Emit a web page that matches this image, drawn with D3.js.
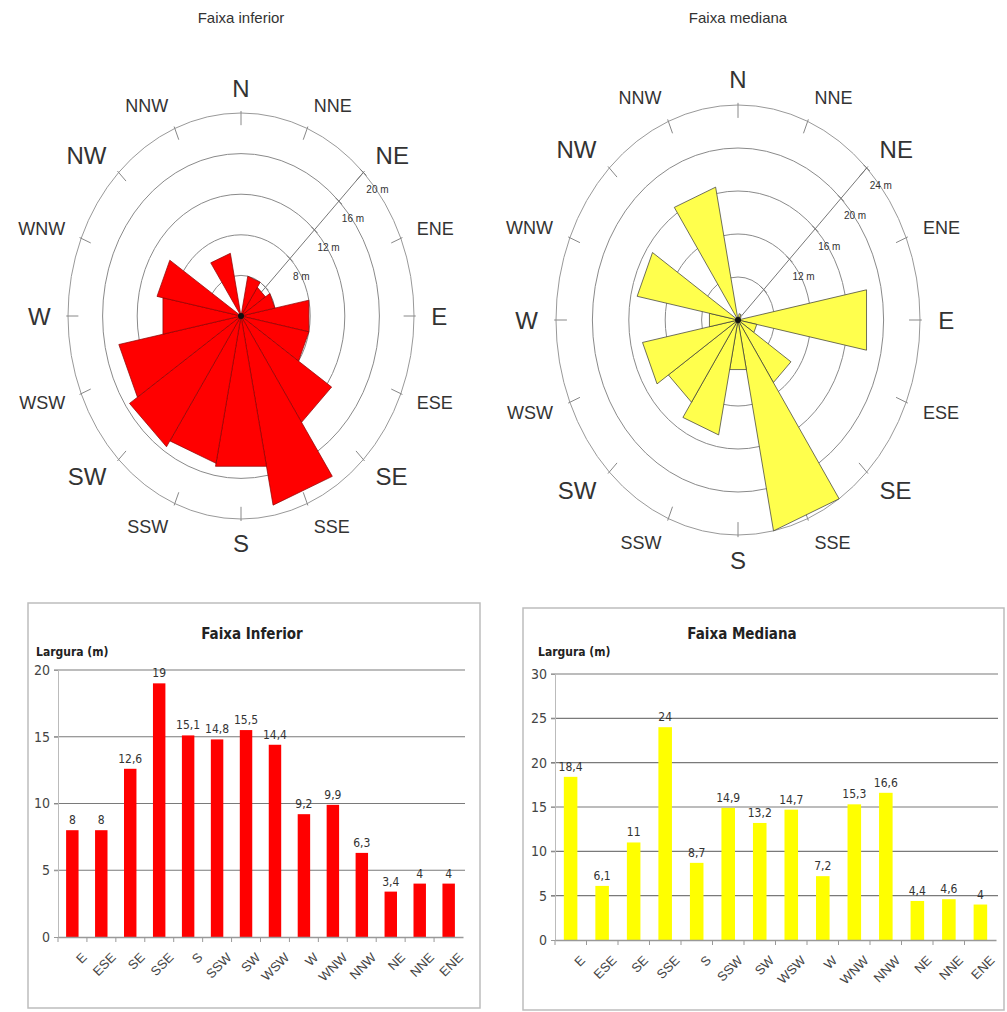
<!DOCTYPE html>
<html>
<head>
<meta charset="utf-8">
<script src="https://cdn.jsdelivr.net/npm/d3@7"></script>
<style>
  body { margin: 0; background: #fff; }
  svg { display: block; font-family: "Liberation Sans", Arial, sans-serif; }
  .rose-title { font-size: 15px; fill: #333; text-anchor: middle; }
  .dir-big { font-size: 24px; fill: #333; }
  .dir-small { font-size: 18px; fill: #333; }
  .ring-label { font-size: 10px; fill: #333; }
  .narrow { font-family: "Liberation Sans Narrow", "DejaVu Sans Condensed", Arial, sans-serif; }
  .bar-title { font-size: 15px; font-weight: bold; fill: #222; text-anchor: middle; }
  .y-title { font-size: 12px; font-weight: bold; fill: #222; }
  .val-label { font-size: 12px; fill: #333; text-anchor: middle; }
  .axis text { font-size: 14px; fill: #444; }
  .xaxis text { font-size: 13px; fill: #444; }
</style>
</head>
<body>
<svg id="chart" width="1007" height="1012"></svg>
<script>
// Directions as listed in the bar charts
const barDirections = ['E', 'ESE', 'SE', 'SSE', 'S', 'SSW', 'SW', 'WSW', 'W', 'WNW', 'NNW', 'NE', 'NNE', 'ENE'];
// Largura (m), faixa inferior
const inferiorValues = [8, 8, 12.6, 19, 15.1, 14.8, 15.5, 14.4, 9.2, 9.9, 6.3, 3.4, 4, 4];
// Largura (m), faixa mediana
const medianaValues = [18.4, 6.1, 11, 24, 8.7, 14.9, 13.2, 14.7, 7.2, 15.3, 16.6, 4.4, 4.6, 4];
// Compass rose, clockwise from north
const compass = ['N', 'NNE', 'NE', 'ENE', 'E', 'ESE', 'SE', 'SSE', 'S', 'SSW', 'SW', 'WSW', 'W', 'WNW', 'NW', 'NNW'];
const bigDirections = ['N', 'NE', 'E', 'SE', 'S', 'SW', 'W', 'NW'];
// Rose rings (m)
const inferiorRings = [4, 8, 12, 16, 20];
const inferiorRingLabels = [8, 12, 16, 20];
const medianaRings = [8, 12, 16, 20, 24];
const medianaRingLabels = [12, 16, 20, 24];
// Bar chart y ticks
const inferiorTicks = [0, 5, 10, 15, 20];
const medianaTicks = [0, 5, 10, 15, 20, 25, 30];

const svg = d3.select('#chart');

/**
 * Draws an elliptical wind rose
 */
function drawRose(cfg) {
  const g = svg.append('g').attr('transform', `translate(${cfg.cx},${cfg.cy})`);
  const r = d3.scaleLinear().domain(cfg.domain).range([0, 1]);
  const angle = d3.scalePoint().domain(compass).range([0, 360 - 22.5]);
  const pt = (deg, rr) => {
    const a = deg * Math.PI / 180;
    return [cfg.rx * rr * Math.sin(a), -cfg.ry * rr * Math.cos(a)];
  };

  svg.append('text')
    .attr('class', 'rose-title')
    .attr('x', cfg.cx)
    .attr('y', 23)
    .text(cfg.title);

  // Rings
  g.selectAll('ellipse.ring')
    .data(cfg.rings)
    .enter()
    .append('ellipse')
    .attr('class', 'ring')
    .attr('rx', (d) => cfg.rx * r(d))
    .attr('ry', (d) => cfg.ry * r(d))
    .attr('fill', 'none')
    .attr('stroke', (d, i) => (i === cfg.rings.length - 1 ? '#999' : '#8a8a8a'))
    .attr('stroke-width', 1);

  // Outer ticks
  g.selectAll('line.tick')
    .data(compass)
    .enter()
    .append('line')
    .attr('class', 'tick')
    .attr('x1', (d) => pt(angle(d), 0.94)[0])
    .attr('y1', (d) => pt(angle(d), 0.94)[1])
    .attr('x2', (d) => pt(angle(d), 1.01)[0])
    .attr('y2', (d) => pt(angle(d), 1.01)[1])
    .attr('stroke', '#888');

  // Scale axis along NE
  const end = pt(45, 1);
  g.append('line')
    .attr('x1', 0).attr('y1', 0)
    .attr('x2', end[0]).attr('y2', end[1])
    .attr('stroke', '#777');
  g.selectAll('line.rtick')
    .data(cfg.rings)
    .enter()
    .append('line')
    .attr('class', 'rtick')
    .attr('x1', (d) => pt(45, r(d))[0] - 3)
    .attr('y1', (d) => pt(45, r(d))[1] - 3)
    .attr('x2', (d) => pt(45, r(d))[0] + 3)
    .attr('y2', (d) => pt(45, r(d))[1] + 3)
    .attr('stroke', '#777');
  g.selectAll('text.ring-label')
    .data(cfg.ringLabels)
    .enter()
    .append('text')
    .attr('class', 'ring-label')
    .attr('x', (d) => pt(45, r(d))[0] + 3)
    .attr('y', (d) => pt(45, r(d))[1] + 21)
    .text((d) => d + ' m');

  // Wedges
  const half = 11.25;
  const rows = cfg.dirs.map((d, i) => ({ dir: d, value: cfg.values[i] }));
  g.selectAll('path.wedge')
    .data(rows)
    .enter()
    .append('path')
    .attr('class', 'wedge')
    .attr('d', (d) => {
      const a = angle(d.dir);
      const rr = Math.max(0, r(d.value));
      const p1 = pt(a - half, rr);
      const p2 = pt(a + half, rr);
      return `M0,0L${p1[0]},${p1[1]}L${p2[0]},${p2[1]}Z`;
    })
    .attr('fill', cfg.fill)
    .attr('stroke', cfg.stroke)
    .attr('stroke-width', 0.7)
    .attr('stroke-linejoin', 'round');

  g.append('circle').attr('r', 3).attr('fill', '#111');

  // Direction labels
  g.selectAll('text.dir')
    .data(compass)
    .enter()
    .append('text')
    .attr('class', (d) => (bigDirections.includes(d) ? 'dir-big' : 'dir-small'))
    .attr('x', (d) => pt(angle(d), 1.1)[0])
    .attr('y', (d) => pt(angle(d), 1.12)[1])
    .attr('dy', '0.36em')
    .attr('text-anchor', (d) => {
      const a = angle(d);
      if (a === 0 || a === 180) return 'middle';
      return a < 180 ? 'start' : 'end';
    })
    .text((d) => d);
}

/**
 * Draws a bar chart of widths by direction
 */
function drawBars(cfg) {
  svg.append('rect')
    .attr('x', cfg.box[0]).attr('y', cfg.box[1])
    .attr('width', cfg.box[2]).attr('height', cfg.box[3])
    .attr('fill', '#fff')
    .attr('stroke', '#bdbdbd')
    .attr('stroke-width', 1.5);

  const x = d3.scaleBand().domain(barDirections).range([cfg.x0, cfg.x1]).paddingInner(0.57).paddingOuter(0.28);
  const xb = d3.scaleBand().domain(barDirections).range([cfg.x0, cfg.x1]);
  const y = d3.scaleLinear().domain([0, d3.max(cfg.ticks)]).range([cfg.y0, cfg.yTop]);
  const g = svg.append('g');

  // Gridlines
  g.selectAll('line.grid')
    .data(cfg.ticks.slice(1))
    .enter()
    .append('line')
    .attr('x1', cfg.x0 - 4).attr('x2', cfg.x1 + 2)
    .attr('y1', (d) => y(d)).attr('y2', (d) => y(d))
    .attr('stroke', '#7a7a7a')
    .attr('stroke-width', 1.2);

  // Y axis
  const yAxis = g.append('g')
    .attr('class', 'axis narrow')
    .attr('transform', `translate(${cfg.x0},0)`)
    .call(d3.axisLeft(y).tickValues(cfg.ticks).tickSize(4).tickPadding(4));
  yAxis.select('.domain').attr('stroke', '#bbb');
  yAxis.selectAll('.tick line').attr('stroke', '#999');

  // Bars
  g.selectAll('rect.bar')
    .data(cfg.values)
    .enter()
    .append('rect')
    .attr('class', 'bar')
    .attr('x', (d, i) => x(barDirections[i]))
    .attr('y', (d) => y(d))
    .attr('width', x.bandwidth())
    .attr('height', (d) => cfg.y0 - y(d))
    .attr('fill', cfg.fill);

  // Value labels
  g.selectAll('text.val-label')
    .data(cfg.values)
    .enter()
    .append('text')
    .attr('class', 'val-label narrow')
    .attr('x', (d, i) => x(barDirections[i]) + x.bandwidth() / 2)
    .attr('y', (d) => y(d) - 6)
    .text((d) => String(d).replace('.', ','));

  // X axis
  const xAxis = g.append('g')
    .attr('class', 'xaxis')
    .attr('transform', `translate(0,${cfg.y0})`)
    .call(d3.axisBottom(xb).tickSize(0).tickPadding(12));
  xAxis.select('.domain').attr('stroke', '#999').attr('stroke-width', 1.5);
  xAxis.selectAll('.tick text')
    .attr('text-anchor', 'end')
    .attr('dy', '0.3em')
    .attr('transform', 'translate(4,10) rotate(-45)');
  g.selectAll('line.xtick')
    .data(barDirections)
    .enter()
    .append('line')
    .attr('x1', (d) => xb(d)).attr('x2', (d) => xb(d))
    .attr('y1', cfg.y0).attr('y2', cfg.y0 + 5)
    .attr('stroke', '#999');

  svg.append('text')
    .attr('class', 'bar-title narrow')
    .attr('x', cfg.titleX)
    .attr('y', cfg.titleY)
    .text(cfg.title);
  svg.append('text')
    .attr('class', 'y-title narrow')
    .attr('x', cfg.yTitleX)
    .attr('y', cfg.titleY + 17)
    .text('Largura (m)');
}

drawRose({
  title: 'Faixa inferior',
  cx: 241, cy: 316, rx: 173, ry: 203,
  domain: [0, 20],
  rings: inferiorRings,
  ringLabels: inferiorRingLabels,
  dirs: barDirections,
  values: inferiorValues,
  fill: '#ff0000',
  stroke: '#8b0000',
});

drawRose({
  title: 'Faixa mediana',
  cx: 738, cy: 320, rx: 182, ry: 215,
  domain: [4, 24],
  rings: medianaRings,
  ringLabels: medianaRingLabels,
  dirs: barDirections,
  values: medianaValues,
  fill: '#ffff4d',
  stroke: '#333',
});

drawBars({
  title: 'Faixa Inferior',
  box: [28, 603, 452, 405],
  x0: 58, x1: 463, y0: 937, yTop: 670,
  ticks: inferiorTicks,
  values: inferiorValues,
  fill: '#ff0000',
  titleX: 252, titleY: 639, yTitleX: 36,
});

drawBars({
  title: 'Faixa Mediana',
  box: [523, 608, 481, 402],
  x0: 555, x1: 996, y0: 940, yTop: 674,
  ticks: medianaTicks,
  values: medianaValues,
  fill: '#ffff00',
  titleX: 742, titleY: 639, yTitleX: 538,
});
</script>
</body>
</html>
